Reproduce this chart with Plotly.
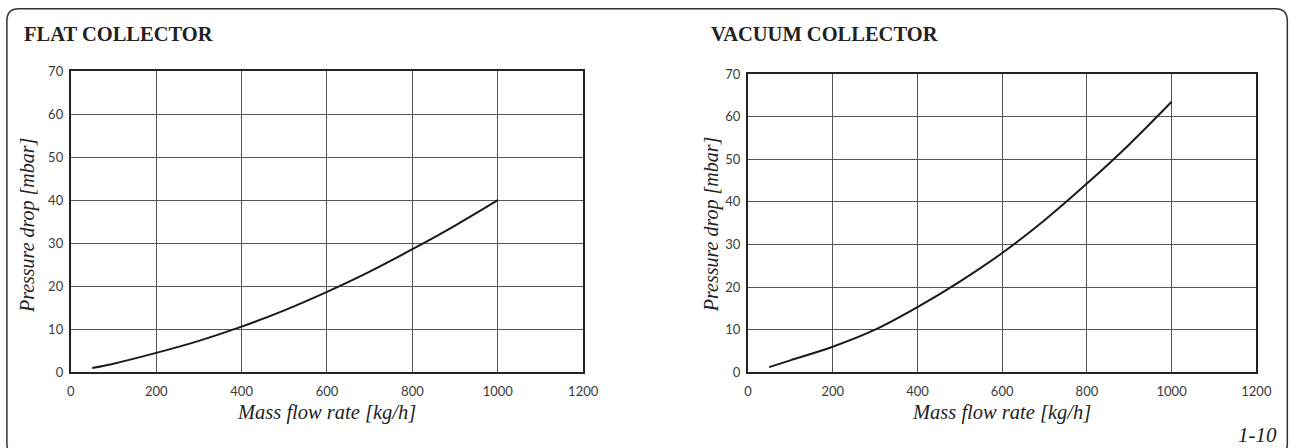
import plotly.graph_objects as go

# ---- data ----
flow_flat = [50, 100, 200, 300, 400, 500, 600, 700, 800, 900, 1000]
dp_flat = [1.0, 2.0, 4.5, 7.3, 10.6, 14.4, 18.7, 23.4, 28.6, 34.1, 40.0]

flow_vac = [50, 100, 200, 300, 400, 500, 600, 700, 800, 900, 1000]
dp_vac = [1.2, 2.8, 6.0, 10.0, 15.3, 21.3, 28.0, 35.7, 44.3, 53.5, 63.5]

x_ticks = [0, 200, 400, 600, 800, 1000, 1200]
y_ticks = [0, 10, 20, 30, 40, 50, 60, 70]

titles = ["FLAT COLLECTOR", "VACUUM COLLECTOR"]
x_title = "Mass flow rate [kg/h]"
y_title = "Pressure drop [mbar]"
fig_label = "1-10"

# figure size (page pixels); body margin removed by post_script
W, H = 1306, 458
# measured mapping page pixel -> picture pixel
AX, BX = 0.9859, 3.1
AY, BY = 0.9582, 9.33


def px(X):
    """picture x (reference pixels) -> paper x"""
    return ((X - BX) / AX) / W


def py(Y):
    """picture y (reference pixels) -> paper y"""
    return 1 - ((Y - BY) / AY) / H


fig = go.Figure()
fig.add_trace(go.Scatter(x=flow_flat, y=dp_flat, mode="lines", line=dict(color="#1a1a1a", width=2, shape="spline"),
                         xaxis="x", yaxis="y", showlegend=False, hoverinfo="skip"))
fig.add_trace(go.Scatter(x=flow_vac, y=dp_vac, mode="lines", line=dict(color="#1a1a1a", width=2, shape="spline"),
                         xaxis="x2", yaxis="y2", showlegend=False, hoverinfo="skip"))

tickfont = dict(family="Lato, 'Noto Sans', sans-serif", size=13, color="#3a3a3a")
axis_common = dict(showgrid=True, gridcolor="#555", gridwidth=1, showline=True, linecolor="#222", linewidth=2,
                   mirror=True, ticks="", tickfont=tickfont, zeroline=False, fixedrange=True)

fig.update_layout(
    width=W, height=H,
    margin=dict(l=0, r=0, t=0, b=0),
    paper_bgcolor="white", plot_bgcolor="white",
    xaxis=dict(domain=[px(70), px(583)], range=[0, 1200], tickvals=x_ticks, anchor="y",
               ticklabelstandoff=6, **axis_common),
    yaxis=dict(domain=[py(371), py(72)], range=[0, 70], tickvals=y_ticks, anchor="x",
               ticklabelstandoff=3, **axis_common),
    xaxis2=dict(domain=[px(748), px(1257)], range=[0, 1200], tickvals=x_ticks, anchor="y2",
                ticklabelstandoff=6, **axis_common),
    yaxis2=dict(domain=[py(371), py(75)], range=[0, 70], tickvals=y_ticks, anchor="x2",
                ticklabelstandoff=3, **axis_common),
)

serif = "'Liberation Serif', 'Times New Roman', serif"
ann = []
# panel titles
ann.append(dict(text="<b>" + titles[0] + "</b>", x=px(21), y=py(35), xanchor="left", yanchor="middle",
                font=dict(family=serif, size=20.5, color="#222")))
ann.append(dict(text="<b>" + titles[1] + "</b>", x=px(709), y=py(35), xanchor="left", yanchor="middle",
                font=dict(family=serif, size=20.5, color="#222")))
# axis titles
for cx, cy in [((70 + 583) / 2 - 1, 411), ((748 + 1257) / 2 - 1, 411)]:
    ann.append(dict(text="<i>" + x_title + "</i>", x=px(cx), y=py(cy), xanchor="center", yanchor="middle",
                    font=dict(family=serif, size=20.5, color="#222")))
for cx, cy in [(26, 225), (711, 225)]:
    ann.append(dict(text="<i>" + y_title + "</i>", x=px(cx), y=py(cy), xanchor="center", yanchor="middle",
                    textangle=-90, font=dict(family=serif, size=20, color="#222")))
ann.append(dict(text="<i>" + fig_label + "</i>", x=px(1280), y=py(433.5), xanchor="right", yanchor="middle",
                font=dict(family=serif, size=21, color="#222")))
for a in ann:
    a.update(xref="paper", yref="paper", showarrow=False)
fig.update_layout(annotations=ann)

# rounded outer frame
top_y = max(7, BY + 0.8 * AY)
L, R, T, B, r = 6, 1288, top_y, 454, 12
path = (f"M {px(L + r)},{py(T)} L {px(R - r)},{py(T)} Q {px(R)},{py(T)} {px(R)},{py(T + r)} "
        f"L {px(R)},{py(B - r)} Q {px(R)},{py(B)} {px(R - r)},{py(B)} "
        f"L {px(L + r)},{py(B)} Q {px(L)},{py(B)} {px(L)},{py(B - r)} "
        f"L {px(L)},{py(T + r)} Q {px(L)},{py(T)} {px(L + r)},{py(T)} Z")
fig.add_shape(type="path", path=path, xref="paper", yref="paper", line=dict(color="#333", width=1.5))

fig.write_html("out.html", config={"displayModeBar": False},
               post_script="document.body.style.margin='0';document.body.style.overflow='hidden';")
